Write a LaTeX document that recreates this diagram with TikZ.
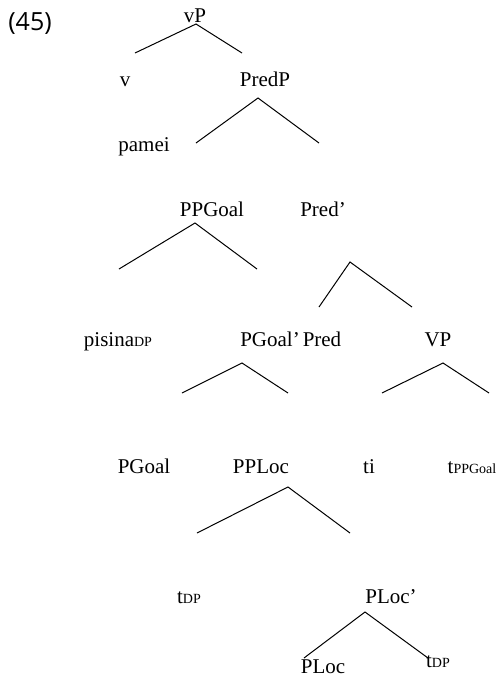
\documentclass[tikz,border=0pt]{standalone}
\usepackage{fontspec}
\setmainfont{Liberation Serif}
\newfontfamily\exfont{Open Sans}
\usetikzlibrary{positioning}
\newcommand{\sbs}[1]{{\fontsize{14}{14}\selectfont #1}}

\begin{document}
\begin{tikzpicture}[x=1pt, y=-1pt,
	cat/.style = {anchor=base, inner sep=0pt, font=\fontsize{21}{24}\selectfont},
	br/.style = {line width=1pt}]
	\useasboundingbox (0,0) rectangle (502,678);

	\node[anchor=base, inner sep=0pt, font=\exfont\fontsize{25}{28}\selectfont] (ex) at (30,30) {(45)};

	% labels
	\node[cat] (vP)      at (195,22)  {vP};
	\node[cat] (v)       at (125,86)  {v};
	\node[cat] (PredP)   at (265,86)  {PredP};
	\node[cat] (pamei)   at (144,151) {pamei};
	\node[cat] (PPGoal)  at (212,216) {PPGoal};
	\node[cat] (Predb)   at (323,216) {Pred'};
	\node[cat] (pisina)  at (118,346) {pisina\sbs{DP}};
	\node[cat] (PGoalb)  at (270,346) {PGoal'};
	\node[cat] (Pred)    at (322,346) {Pred};
	\node[cat] (VP)      at (438,346) {VP};
	\node[cat] (PGoal)   at (144,473) {PGoal};
	\node[cat] (PPLoc)   at (261,473) {PPLoc};
	\node[cat] (ti)      at (369,473) {ti};
	\node[cat] (tPPGoal) at (472,473) {t\sbs{PPGoal}};
	\node[cat] (tDPa)    at (189,603) {t\sbs{DP}};
	\node[cat] (PLocb)   at (391,603) {PLoc'};
	\node[cat] (PLoc)    at (323,673) {PLoc};
	\node[cat] (tDPb)    at (438,667) {t\sbs{DP}};

	% branch points
	\coordinate (vP-a)     at (196,24);
	\coordinate (vP-l)     at (135,53);
	\coordinate (vP-r)     at (242,53);
	\coordinate (PredP-a)  at (258,98);
	\coordinate (PredP-l)  at (196,143);
	\coordinate (PredP-r)  at (319,143);
	\coordinate (PPGoal-a) at (195,223);
	\coordinate (PPGoal-l) at (119,269);
	\coordinate (PPGoal-r) at (257,269);
	\coordinate (Predb-a)  at (350,262);
	\coordinate (Predb-l)  at (319,307);
	\coordinate (Predb-r)  at (412,307);
	\coordinate (PGoalb-a) at (242,363);
	\coordinate (PGoalb-l) at (182,393);
	\coordinate (PGoalb-r) at (288,393);
	\coordinate (VP-a)     at (443,363);
	\coordinate (VP-l)     at (382,393);
	\coordinate (VP-r)     at (489,393);
	\coordinate (PPLoc-a)  at (288,487);
	\coordinate (PPLoc-l)  at (197,533);
	\coordinate (PPLoc-r)  at (350,533);
	\coordinate (PLocb-a)  at (365,612);
	\coordinate (PLocb-l)  at (304,658);
	\coordinate (PLocb-r)  at (428,658);

	% branches
	\draw[br] (vP-l) -- (vP-a) -- (vP-r);
	\draw[br] (PredP-l) -- (PredP-a) -- (PredP-r);
	\draw[br] (PPGoal-l) -- (PPGoal-a) -- (PPGoal-r);
	\draw[br] (Predb-l) -- (Predb-a) -- (Predb-r);
	\draw[br] (PGoalb-l) -- (PGoalb-a) -- (PGoalb-r);
	\draw[br] (VP-l) -- (VP-a) -- (VP-r);
	\draw[br] (PPLoc-l) -- (PPLoc-a) -- (PPLoc-r);
	\draw[br] (PLocb-l) -- (PLocb-a) -- (PLocb-r);
\end{tikzpicture}
\end{document}
